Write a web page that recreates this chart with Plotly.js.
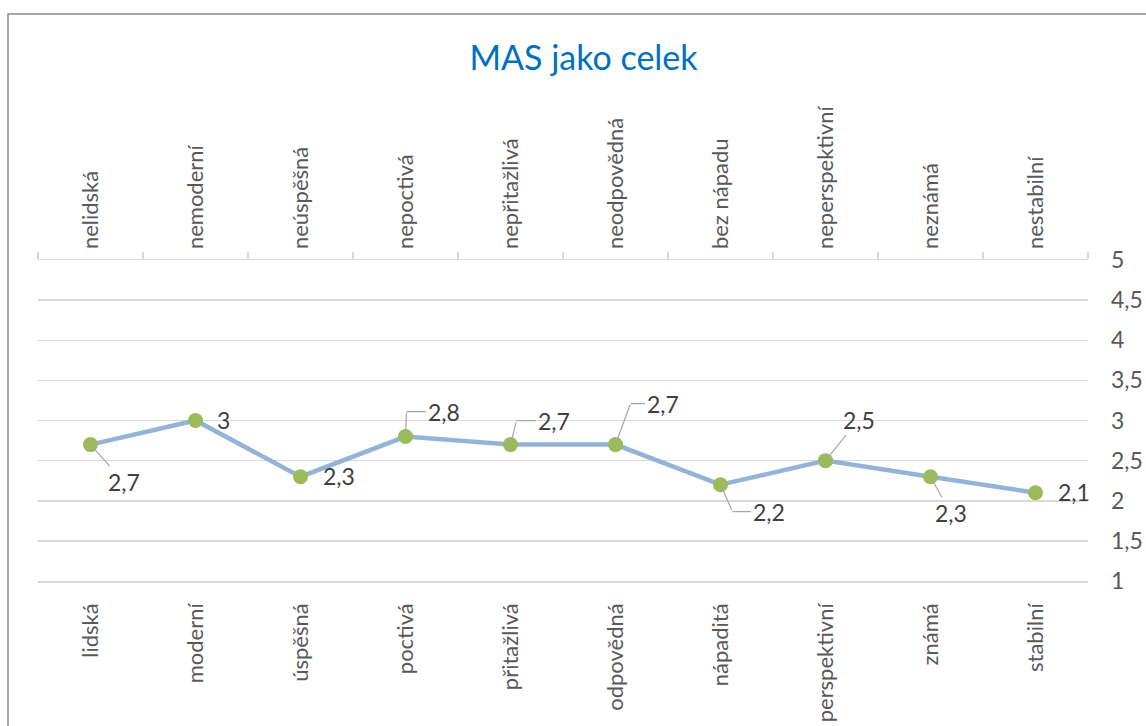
<!DOCTYPE html>
<html>
<head>
<meta charset="utf-8">
<script src="https://cdn.plot.ly/plotly-3.0.1.min.js"></script>
<style>html,body{margin:0;padding:0;background:#fff;}#chart{width:1146px;height:726px;}</style>
</head>
<body>
<div id="chart"></div>
<script>
// ---- data ----
const categories = ["lidská","moderní","úspěšná","poctivá","přitažlivá","odpovědná","nápaditá","perspektivní","známá","stabilní"];
const oppositeCategories = ["nelidská","nemoderní","neúspěšná","nepoctivá","nepřitažlivá","neodpovědná","bez nápadu","neperspektivní","neznámá","nestabilní"];
const values = [2.7, 3, 2.3, 2.8, 2.7, 2.7, 2.2, 2.5, 2.3, 2.1];
const yTickVals = [1, 1.5, 2, 2.5, 3, 3.5, 4, 4.5, 5];
const chartTitle = "MAS jako celek";

// ---- label placement styles (pixel offsets) ----
// type: 'plain' (no leader), 'straight' (straight leader), 'elbow' (vertical then horizontal leader)
const labelStyle = [
  {type:'straight', ax:33, ay:37},
  {type:'plain', dx:28, dy:-1},
  {type:'plain', dx:38, dy:-1},
  {type:'elbow', cx:1, cy:-25, lx:37},
  {type:'elbow', cx:6, cy:-24, lx:37},
  {type:'elbow', cx:15, cy:-41, lx:32},
  {type:'elbow', cx:12, cy:27, lx:36},
  {type:'straight', ax:33, ay:-41},
  {type:'straight', ax:20, ay:36},
  {type:'plain', dx:38, dy:-1}
];

const FONT = "Lato, 'Open Sans', sans-serif";
const fmt = v => String(v).replace('.', ',');
const leaderColor = '#a6a6a6';
const labelFont = {family: FONT, size: 23, color: '#404040'};

const annotations = [];
values.forEach((v, i) => {
  const s = labelStyle[i];
  const base = {x: categories[i], y: v, xref: 'x', yref: 'y', font: labelFont, text: fmt(v)};
  if (s.type === 'plain') {
    annotations.push(Object.assign({}, base, {showarrow: false, xshift: s.dx, yshift: -s.dy}));
  } else if (s.type === 'straight') {
    annotations.push(Object.assign({}, base, {showarrow: true, arrowhead: 0, arrowwidth: 1.2, arrowcolor: leaderColor, standoff: 0, ax: s.ax, ay: s.ay}));
  } else {
    // vertical segment from point to corner
    annotations.push(Object.assign({}, base, {text: '', showarrow: true, arrowhead: 0, arrowwidth: 1.2, arrowcolor: leaderColor, standoff: 0, ax: s.cx, ay: s.cy}));
    // label with horizontal segment to corner
    annotations.push(Object.assign({}, base, {showarrow: true, arrowhead: 0, arrowwidth: 1.2, arrowcolor: leaderColor, standoff: 0, ax: s.lx, ay: 0, xshift: s.cx, yshift: -s.cy}));
  }
});

const traces = [
  {
    x: categories, y: values, type: 'scatter', mode: 'lines+markers',
    line: {color: '#95B3D7', width: 4.5},
    marker: {color: '#9BBB59', size: 15, line: {width: 0}},
    hoverinfo: 'x+y', showlegend: false
  },
  {
    x: oppositeCategories, y: values, xaxis: 'x2', type: 'scatter', mode: 'lines',
    line: {width: 0, color: 'rgba(0,0,0,0)'}, hoverinfo: 'skip', showlegend: false
  }
];

const layout = {
  width: 1146, height: 726,
  paper_bgcolor: '#ffffff', plot_bgcolor: '#ffffff',
  margin: {l: 38, r: 58, t: 260, b: 145},
  separators: ', ',
  font: {family: FONT, color: '#595959', size: 20},
  title: {
    text: chartTitle, font: {family: FONT, size: 34, color: '#0070C0'},
    x: 583.5/1146, xref: 'container', xanchor: 'center',
    y: 1 - 58/726, yref: 'container', yanchor: 'middle'
  },
  xaxis: {
    type: 'category', range: [-0.5, 9.5], side: 'bottom',
    showgrid: false, zeroline: false, showline: true, linecolor: '#d9d9d9', linewidth: 1.5,
    ticks: '', tickangle: -90, ticklabelstandoff: 12,
    tickfont: {family: FONT, size: 22, color: '#595959'}
  },
  xaxis2: {
    type: 'category', range: [-0.5, 9.5], side: 'top', overlaying: 'x', anchor: 'y',
    showgrid: false, zeroline: false, showline: true, linecolor: '#d9d9d9', linewidth: 1.5,
    ticks: 'outside', tickson: 'boundaries', ticklen: 7, tickcolor: '#d9d9d9', tickwidth: 1.5,
    tickangle: -90, ticklabelstandoff: 5,
    tickfont: {family: FONT, size: 22, color: '#595959'}
  },
  yaxis: {
    range: [1, 5], side: 'right', tickmode: 'array', tickvals: yTickVals,
    showgrid: true, gridcolor: '#d9d9d9', gridwidth: 1.5, zeroline: false, showline: false,
    ticks: '', ticklabelstandoff: 22,
    tickfont: {family: FONT, size: 23, color: '#595959'}
  },
  annotations: annotations,
  shapes: [{
    type: 'rect', xref: 'paper', yref: 'paper', layer: 'above',
    x0: (8 - 38) / 1050, x1: 1.2, y0: -1, y1: (581 - 14) / 321,
    line: {color: '#898989', width: 1.5}, fillcolor: 'rgba(0,0,0,0)'
  }]
};

Plotly.newPlot('chart', traces, layout, {displayModeBar: false, staticPlot: true});
</script>
</body>
</html>
